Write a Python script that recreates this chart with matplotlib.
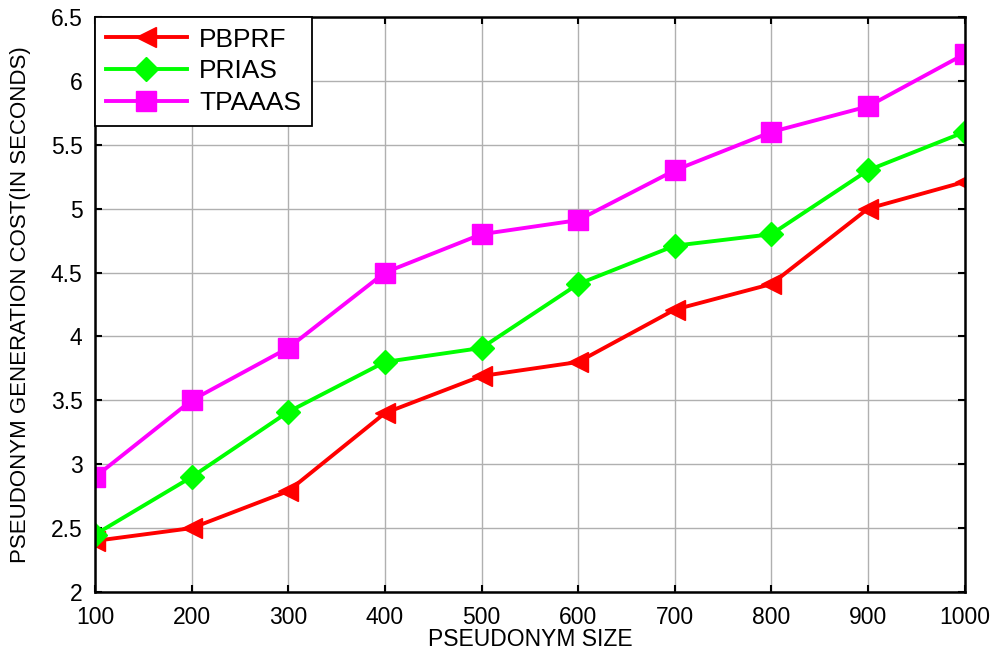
import matplotlib.pyplot as plt

plt.rcParams['font.family'] = ['Liberation Sans', 'DejaVu Sans']

sizes = [100, 200, 300, 400, 500, 600, 700, 800, 900, 1000]
pbprf = [2.4, 2.5, 2.79, 3.4, 3.69, 3.8, 4.21, 4.41, 5.0, 5.21]
prias = [2.45, 2.9, 3.41, 3.8, 3.91, 4.41, 4.71, 4.8, 5.3, 5.6]
tpaaas = [2.9, 3.5, 3.91, 4.5, 4.8, 4.91, 5.3, 5.6, 5.8, 6.21]

fig = plt.figure(figsize=(9.95, 6.52), dpi=100)
ax = fig.add_axes([0.0955, 0.092, 0.874, 0.882])

ax.plot(sizes, pbprf, '-<', color='#ff0000', lw=2.8, ms=15, label='PBPRF')
ax.plot(sizes, prias, '-D', color='#00ff00', lw=2.8, ms=12, label='PRIAS')
ax.plot(sizes, tpaaas, '-s', color='#ff00ff', lw=2.8, ms=14, label='TPAAAS')

ax.set_xlim(100, 1000)
ax.set_ylim(2, 6.5)
ax.set_xticks(sizes)
ax.set_yticks([2, 2.5, 3, 3.5, 4, 4.5, 5, 5.5, 6, 6.5])
ax.set_yticklabels(['2', '2.5', '3', '3.5', '4', '4.5', '5', '5.5', '6', '6.5'])
ax.grid(True, color='#b0b0b0', lw=1.0)
ax.set_axisbelow(True)
ax.tick_params(direction='in', top=True, right=True, labelsize=16.5, length=5, width=1.5)
ax.tick_params(axis='x', pad=10)
ax.tick_params(axis='y', pad=9)
for s in ax.spines.values():
    s.set_linewidth(1.8)

ax.set_xlabel('PSEUDONYM SIZE', fontsize=16.5, labelpad=-1)
ax.set_ylabel('PSEUDONYM GENERATION COST(IN SECONDS)', fontsize=16, labelpad=14)

leg = ax.legend(loc='upper left', fontsize=19, handlelength=3.1, handletextpad=0.45,
                borderaxespad=0, fancybox=False, framealpha=1, edgecolor='black',
                labelspacing=0.3, borderpad=0.4)
leg.get_frame().set_linewidth(1.3)

fig.savefig('out.png', dpi=100)
